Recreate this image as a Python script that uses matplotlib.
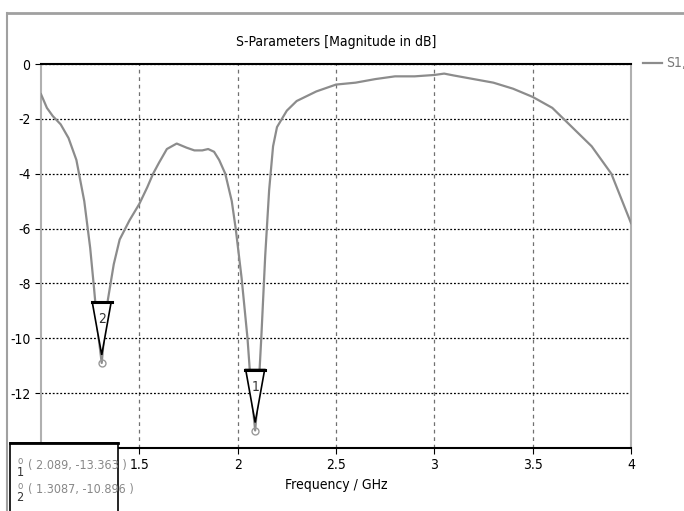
import matplotlib.pyplot as plt
from matplotlib.patches import Polygon, Rectangle
from matplotlib.lines import Line2D
from matplotlib.transforms import IdentityTransform, ScaledTranslation

plt.rcParams['font.family'] = ['DejaVu Sans']
plt.rcParams['font.stretch'] = 'condensed'

freq = [1.0, 1.03, 1.06, 1.1, 1.14, 1.18, 1.22, 1.25, 1.27, 1.29, 1.3087, 1.32, 1.34,
        1.37, 1.4, 1.45, 1.5, 1.54, 1.57, 1.6, 1.64, 1.69, 1.74, 1.78, 1.82, 1.85,
        1.88, 1.906, 1.937, 1.97, 1.99, 2.02, 2.05, 2.07, 2.089, 2.105, 2.12, 2.14,
        2.16, 2.18, 2.2, 2.25, 2.3, 2.4, 2.5, 2.6, 2.7, 2.8, 2.9, 3.0, 3.05, 3.1,
        3.2, 3.3, 3.4, 3.5, 3.6, 3.7, 3.8, 3.9, 4.0]
s11 = [-1.1, -1.6, -1.9, -2.2, -2.7, -3.5, -5.0, -6.7, -8.2, -9.8, -10.9, -10.0, -8.6,
       -7.3, -6.4, -5.7, -5.1, -4.5, -4.0, -3.6, -3.1, -2.9, -3.05, -3.15, -3.15, -3.1,
       -3.2, -3.5, -4.0, -5.0, -6.0, -7.8, -10.0, -12.0, -13.36, -12.0, -10.0, -7.0,
       -4.6, -3.0, -2.3, -1.7, -1.35, -1.0, -0.75, -0.68, -0.55, -0.45, -0.45, -0.4,
       -0.35, -0.42, -0.55, -0.68, -0.9, -1.2, -1.6, -2.3, -3.0, -4.0, -5.8]

mark_x = [2.089, 1.3087]
mark_y = [-13.363, -10.896]
mark_id = ['1', '2']

fig = plt.figure(figsize=(6.84, 5.11), dpi=100)
ax = fig.add_axes([41 / 684, 1 - 448 / 511, 590 / 684, 384 / 511])

ax.plot(freq, s11, color='#8c8c8c', lw=1.6, zorder=3)
ax.set_xlim(1, 4)
ax.set_ylim(-14, 0)
ax.set_xticks([1.5, 2, 2.5, 3, 3.5, 4])
ax.set_xticklabels(['1.5', '2', '2.5', '3', '3.5', '4'])
ax.set_yticks([0, -2, -4, -6, -8, -10, -12, -14])
ax.set_yticklabels(['0', '-2', '-4', '-6', '-8', '-10', '-12', '-14'])
ax.tick_params(labelsize=10, length=4, color='black', direction='out')
ax.xaxis.grid(True, ls=(0, (3, 3)), color='#707070', lw=0.9)
ax.yaxis.grid(True, ls=(0, (1.5, 1.5)), color='black', lw=0.9)
ax.spines['top'].set_color('black')
ax.spines['bottom'].set_color('black')
ax.spines['left'].set_color('#b0b0b0')
ax.spines['right'].set_color('#b0b0b0')
for s in ax.spines.values():
    s.set_linewidth(1.5)

ax.set_title('S-Parameters [Magnitude in dB]', fontsize=10, pad=13)
ax.set_xlabel('Frequency / GHz', fontsize=10, labelpad=4)

# marker triangles
for x, y, t in zip(mark_x, mark_y, mark_id):
    tr = IdentityTransform() + ScaledTranslation(x, y, ax.transData)
    ax.add_patch(Polygon([(-9.5, 61), (9.5, 61), (0, 8)], closed=True, fc='white',
                         ec='black', lw=1.2, transform=tr, zorder=4, clip_on=False))
    ax.add_line(Line2D([-10, 10], [61, 61], color='black', lw=2.2, transform=tr, zorder=5))
    ax.plot([x], [y], 'o', ms=5, mfc='none', mec='#999999', mew=1, zorder=5)
    ax.text(0, 44, t, transform=tr, ha='center', va='center', fontsize=10, color='#333333',
            zorder=6)

# legend entry at right edge
fig.add_artist(Line2D([643 / 684, 662 / 684], [1 - 63 / 511, 1 - 63 / 511],
                      color='#8c8c8c', lw=1.6))
fig.text(666 / 684, 1 - 63 / 511, 'S1,1', fontsize=10, color='#777777', va='center')

# window frame
fig.add_artist(Line2D([7 / 684, 1], [1 - 13 / 511, 1 - 13 / 511], color='#a0a0a0', lw=2))
fig.add_artist(Line2D([7 / 684, 7 / 684], [0, 1 - 13 / 511], color='#a0a0a0', lw=1.5))

# marker info box
fig.add_artist(Rectangle((10 / 684, -0.01), 108 / 684, 68 / 511 + 0.01, fc='white',
                         ec='black', lw=1.2, zorder=10))
fig.add_artist(Line2D([10 / 684, 118 / 684], [1 - 443 / 511, 1 - 443 / 511],
                      color='black', lw=2, zorder=11))
info_y = [465, 490]
for (x, y, t), py in zip(zip(mark_x, mark_y, mark_id), info_y):
    fig.text(20 / 684, 1 - (py - 4) / 511, 'o', fontsize=7, color='#888888',
             ha='center', va='center', zorder=12)
    fig.text(20 / 684, 1 - (py + 7) / 511, t, fontsize=9, color='#333333',
             ha='center', va='center', zorder=12)
    fig.text(28 / 684, 1 - py / 511, '( %s, %s )' % (x, '%.3f' % y), fontsize=9,
             color='#888888', va='center', zorder=12)

fig.savefig('out.png', dpi=100)
